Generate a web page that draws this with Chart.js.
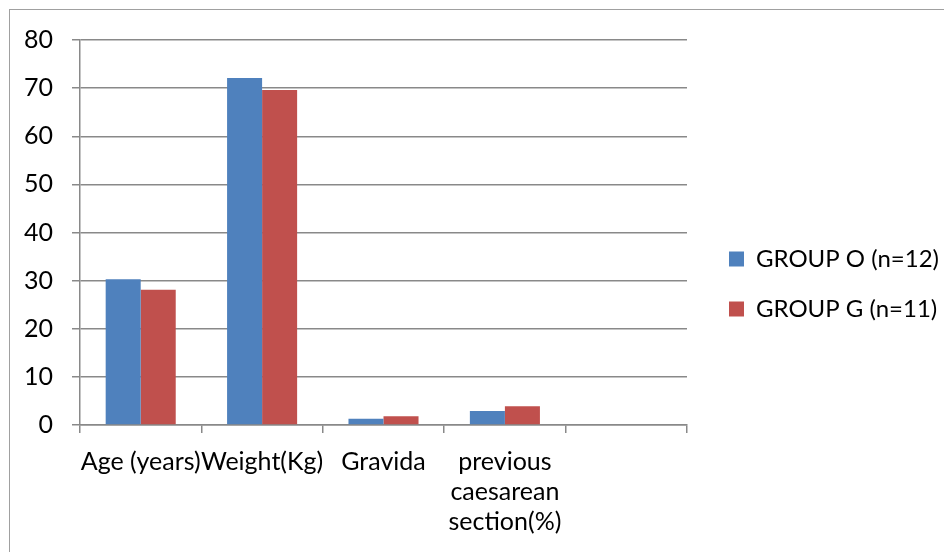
<!DOCTYPE html>
<html>
<head>
<meta charset="utf-8">
<script src="https://cdn.jsdelivr.net/npm/chart.js@4"></script>
<style>
  html, body { margin: 0; padding: 0; background: #fff; overflow: hidden; }
  #wrap { position: relative; width: 944px; height: 552px; }
  #frame { position: absolute; left: 9px; top: 9px; width: 960px; height: 600px; border: 1px solid #a0a0a0; }
  canvas { position: absolute; left: 0; top: 0; }
</style>
</head>
<body>
<div id="wrap">
  <div id="frame"></div>
  <canvas id="bar-chart" width="944" height="552"></canvas>
</div>
<script>
var categories = ['Age (years)', 'Weight(Kg)', 'Gravida', ['previous', 'caesarean', 'section(%)'], ''];
var groupO = [30.3, 72.1, 1.3, 2.9, null];
var groupG = [28.1, 69.6, 1.8, 3.9, null];
var seriesNames = ['GROUP O (n=12)', 'GROUP G (n=11)'];
var yTicks = [0, 10, 20, 30, 40, 50, 60, 70, 80];

var gray = '#898989';
var fontFam = 'Lato, "Open Sans", sans-serif';

// keep the legend in the same place as the original
var legendPlace = {
  id: 'legendPlace',
  beforeInit: function(chart) {
    var fit = chart.legend.fit;
    chart.legend.fit = function() {
      fit.call(this);
      this.width = 257;
    };
  },
  afterLayout: function(chart) {
    var lg = chart.legend;
    lg.left += 16; lg.right += 16;
    lg.top = 16; lg.bottom = 552;
  }
};

new Chart(document.getElementById('bar-chart'), {
  type: 'bar',
  data: {
    labels: categories,
    datasets: [{
      label: seriesNames[0],
      data: groupO,
      backgroundColor: '#4f81bd',
      categoryPercentage: 0.577,
      barPercentage: 1
    }, {
      label: seriesNames[1],
      data: groupG,
      backgroundColor: '#c0504d',
      categoryPercentage: 0.577,
      barPercentage: 1
    }]
  },
  options: {
    responsive: false,
    animation: false,
    layout: { padding: { top: 40, left: 0, right: 0, bottom: 0 } },
    plugins: {
      tooltip: { enabled: false },
      legend: {
        position: 'right',
        labels: {
          boxWidth: 15,
          boxHeight: 15,
          padding: 26,
          color: '#000',
          font: { family: fontFam, size: 24 }
        }
      }
    },
    scales: {
      x: {
        afterFit: function(s) { s.height = 127; },
        grid: {
          offset: true,
          drawOnChartArea: false,
          drawTicks: true,
          tickLength: 8,
          color: gray,
          lineWidth: 1.5
        },
        border: { color: gray, width: 1.5 },
        ticks: {
          color: '#000',
          padding: 14,
          maxRotation: 0,
          autoSkip: false,
          font: { family: fontFam, size: 25, lineHeight: 1.2 }
        }
      },
      y: {
        min: 0,
        max: 80,
        afterFit: function(s) { s.width = 80; },
        afterBuildTicks: function(s) {
          s.ticks = yTicks.map(function(v) { return { value: v }; });
        },
        grid: {
          color: gray,
          lineWidth: 1.5,
          tickLength: 8
        },
        border: { color: gray, width: 1.5 },
        ticks: {
          color: '#000',
          padding: 19,
          font: { family: fontFam, size: 25 }
        }
      }
    }
  },
  plugins: [legendPlace]
});
</script>
</body>
</html>
